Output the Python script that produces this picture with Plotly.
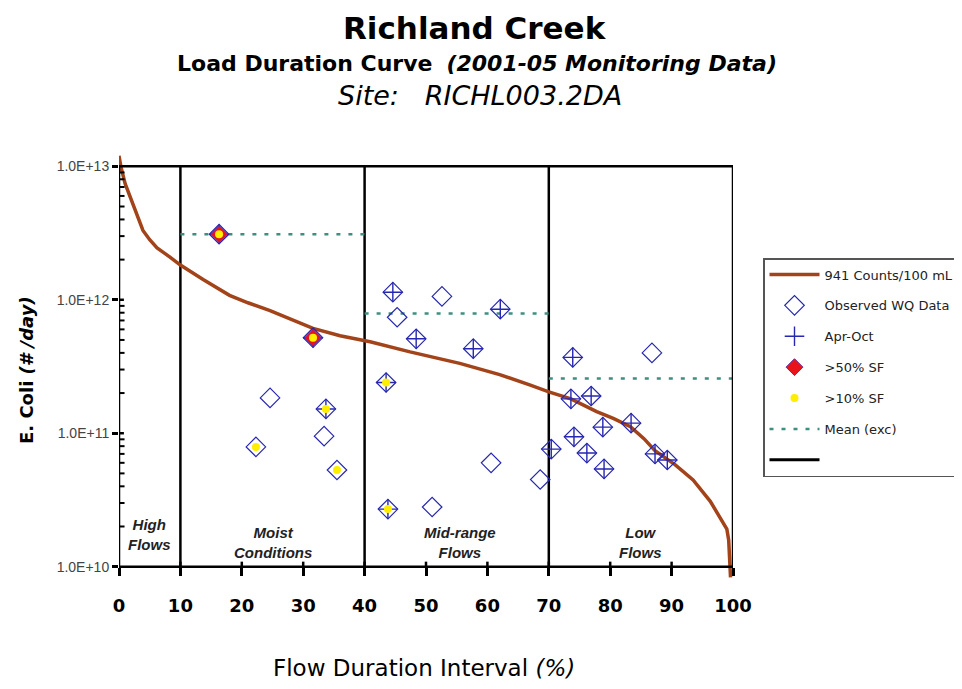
import math
import plotly.graph_objects as go

# ---------------- data ----------------
curve_pct = [0, 0.3, 1.0, 1.8, 3.0, 3.9, 5.0, 6.2, 8.3, 10, 13.7, 18, 21, 24.6, 31.6, 36, 40.9,
             47.4, 55.5, 62, 67, 70, 73.6, 77.8, 80.5, 83.3, 85.5, 87.3, 90.6, 93.5, 96.3,
             97.9, 99.0, 99.3, 99.5, 99.6]
curve_load = [1.2e13, 1.0e13, 7.41e12, 5.89e12, 4.17e12, 3.31e12, 2.82e12, 2.45e12, 2.09e12,
              1.82e12, 1.42e12, 1.08e12, 9.5e11, 8.3e11, 6.11e11, 5.37e11, 4.85e11,
              4.07e11, 3.34e11, 2.75e11, 2.29e11, 2.04e11, 1.81e11, 1.45e11, 1.29e11,
              1.12e11, 9.1e10, 7.4e10, 5.8e10, 4.47e10, 3.09e10,
              2.34e10, 1.91e10, 1.58e10, 1.0e10, 8.3e9]

obs_pct = [16.3, 31.6, 24.6, 22.3, 33.7, 33.4, 35.5, 44.6, 52.6, 45.3,
           62.1, 48.4, 57.7, 43.5, 60.6, 68.6, 70.4, 43.8, 51.0, 73.9,
           86.8, 73.6, 76.9, 78.8, 83.4, 74.1, 76.2, 79.0, 87.3, 89.3]
obs_load = [3.1e12, 5.2e11, 1.84e11, 7.9e10, 1.52e11, 9.5e10, 5.3e10, 1.14e12, 1.06e12, 7.4e11,
            8.5e11, 5.1e11, 4.3e11, 2.4e11, 6.0e10, 4.5e10, 7.6e10, 2.7e10, 2.8e10, 3.7e11,
            4.0e11, 1.81e11, 1.9e11, 1.11e11, 1.19e11, 9.4e10, 7.1e10, 5.4e10, 7.0e10, 6.3e10]
apr_oct = [1, 1, 0, 0, 1, 0, 0, 1, 0, 0,
           1, 1, 1, 1, 0, 0, 1, 1, 0, 1,
           0, 1, 1, 1, 1, 1, 1, 1, 1, 1]
sf50 = [1, 1, 0, 0, 0, 0, 0, 0, 0, 0,
        0, 0, 0, 0, 0, 0, 0, 0, 0, 0,
        0, 0, 0, 0, 0, 0, 0, 0, 0, 0]
sf10 = [1, 1, 0, 1, 1, 0, 1, 0, 0, 0,
        0, 0, 0, 1, 0, 0, 0, 1, 0, 0,
        0, 0, 0, 0, 0, 0, 0, 0, 0, 0]

zone_bounds = [0, 10, 40, 70, 100]
zone_names = ["High<br>Flows", "Moist<br>Conditions", "Mid-range<br>Flows", "Low<br>Flows"]
mean_zones = [(10, 40), (40, 70), (70, 100)]
mean_load = [3.1e12, 7.9e11, 2.57e11]

x_ticks = list(range(0, 101, 10))
y_ticks = [1e10, 1e11, 1e12, 1e13]
y_ticktext = ["1.0E+10", "1.0E+11", "1.0E+12", "1.0E+13"]
y_minor = [m * 10 ** e for e in (10, 11, 12) for m in range(2, 10)]

# ---------------- layout helpers ----------------
Y_LO, Y_HI = 10, 13          # log10 box limits
PAD = 0.1
SPAN = Y_HI - Y_LO + 2 * PAD
BOX_B = PAD / SPAN
BOX_T = 1 - PAD / SPAN
PLOT_H = 427


def ypaper(v):
    return (math.log10(v) - (Y_LO - PAD)) / SPAN


def sel(vals, flags):
    return [v for v, f in zip(vals, flags) if f]


BLUE = "#2727b0"
fig = go.Figure()

mx, my = [], []
for (a, b), m in zip(mean_zones, mean_load):
    mx += [a, b, None]
    my += [m, m, None]
fig.add_trace(go.Scatter(x=mx, y=my, mode="lines", name="Mean (exc)",
                         line=dict(color="#3f8f80", width=2.5, dash="4px,8px"),
                         legendrank=6, legendgroup="g6"))
fig.add_trace(go.Scatter(x=curve_pct, y=curve_load, mode="lines",
                         name="941 Counts/100 mL",
                         line=dict(color="#a3431a", width=3.5), legendrank=1, legendgroup="g1"))
fig.add_trace(go.Scatter(x=obs_pct, y=obs_load, mode="markers", name="Observed WQ Data",
                         marker=dict(symbol="diamond-open", size=15, color=BLUE,
                                     line=dict(width=1.2, color=BLUE)),
                         legendrank=2, legendgroup="g2"))
fig.add_trace(go.Scatter(x=sel(obs_pct, apr_oct), y=sel(obs_load, apr_oct), mode="markers",
                         name="Apr-Oct",
                         marker=dict(symbol="cross-thin", size=14, color=BLUE,
                                     line=dict(width=1.4, color=BLUE)),
                         legendrank=3, legendgroup="g3"))
fig.add_trace(go.Scatter(x=sel(obs_pct, sf50), y=sel(obs_load, sf50), mode="markers",
                         name=">50% SF",
                         marker=dict(symbol="diamond", size=13, color="#e8141c",
                                     line=dict(width=1, color="#6a2a9a")),
                         legendrank=4, legendgroup="g4"))
fig.add_trace(go.Scatter(x=sel(obs_pct, sf10), y=sel(obs_load, sf10), mode="markers",
                         name=">10% SF",
                         marker=dict(symbol="circle", size=8, color="#ffee00",
                                     line=dict(width=0)),
                         legendrank=5, legendgroup="g5"))
fig.add_trace(go.Scatter(x=[None], y=[None], mode="lines", name=" ",
                         line=dict(color="black", width=3), legendrank=7, legendgroup="g7"))

# box, zone dividers, inner tick marks
shapes = [dict(type="rect", xref="x", yref="paper", x0=zone_bounds[0], x1=zone_bounds[-1],
               y0=BOX_B, y1=BOX_T, line=dict(color="black", width=2.5), layer="above")]
for b in zone_bounds[1:-1]:
    shapes.append(dict(type="line", xref="x", yref="paper", x0=b, x1=b, y0=BOX_B, y1=BOX_T,
                       line=dict(color="black", width=2.5), layer="below"))
for v in y_minor:
    shapes.append(dict(type="line", xref="x", yref="paper", x0=0, x1=0.9,
                       y0=ypaper(v), y1=ypaper(v), line=dict(color="black", width=2)))
for v in y_ticks[1:-1]:
    shapes.append(dict(type="line", xref="x", yref="paper", x0=0, x1=0.8,
                       y0=ypaper(v), y1=ypaper(v), line=dict(color="black", width=2.5)))
for t in x_ticks[1:-1]:
    shapes.append(dict(type="line", xref="x", yref="paper", x0=t, x1=t,
                       y0=BOX_B, y1=BOX_B + 5 / PLOT_H, line=dict(color="black", width=2.5)))

ann = []
zone_label_y = [10.24, 10.18, 10.18, 10.18]
for (a, b), name, yl in zip(zip(zone_bounds[:-1], zone_bounds[1:]), zone_names, zone_label_y):
    ann.append(dict(x=(a + b) / 2 + (0.5 if a == 40 else 0), y=yl, xref="x", yref="y",
                    text="<b><i>" + name + "</i></b>",
                    showarrow=False, xanchor="center", yanchor="middle",
                    font=dict(size=15, family="Liberation Sans", color="#222")))

OFF = 8  # page body margin


def py(p):  # reference pixel -> paper y
    return (580 - p) / PLOT_H


def px(p):
    return (p - 119) / 614


TFONT = "DejaVu Sans"
titles = [
    dict(x=px(475), y=py(28), text="<b>Richland Creek</b>",
         font=dict(size=31, family=TFONT, color="black")),
    dict(x=px(477), y=py(63),
         text="<b>Load Duration Curve</b>&nbsp; <b><i>(2001-05 Monitoring Data)</i></b>",
         font=dict(size=22, family=TFONT, color="black")),
    dict(x=px(480), y=py(95),
         text="<i>Site:&nbsp;&nbsp; RICHL003.2DA</i>",
         font=dict(size=27, family=TFONT, color="black")),
    dict(x=px(424), y=py(668),
         text="Flow Duration Interval <i>(%)</i>",
         font=dict(size=23, family=TFONT, color="black")),
    dict(x=px(26), y=py(370), textangle=-90,
         text="<b>E. Coli <i>(# /day)</i></b>",
         font=dict(size=18, family=TFONT, color="black")),
]
for a in titles:
    a.update(xref="paper", yref="paper", showarrow=False, xanchor="center", yanchor="middle")
ann += titles

fig.update_layout(
    width=962, height=689,
    margin=dict(l=119 - OFF, r=962 - 733 + OFF, t=153 - OFF, b=109 + OFF, autoexpand=False),
    paper_bgcolor="white", plot_bgcolor="white",
    showlegend=True,
    legend=dict(x=px(763), y=py(258), xanchor="left", yanchor="top",
                bgcolor="white", bordercolor="#555", borderwidth=1.5,
                font=dict(size=13, family=TFONT, color="#222"),
                itemwidth=50,
                tracegroupgap=11, traceorder="grouped"),
    shapes=shapes, annotations=ann,
    xaxis=dict(range=[0, 100], tickvals=x_ticks, showgrid=False, zeroline=False,
               showline=False, anchor="free", position=BOX_B,
               ticks="outside", ticklen=8, tickwidth=2.5, tickcolor="black",
               ticklabelstandoff=15,
               tickfont=dict(size=18, family=TFONT, color="black", weight="bold")),
    yaxis=dict(type="log", range=[Y_LO - PAD, Y_HI + PAD], tickvals=y_ticks,
               ticktext=y_ticktext, showgrid=False, zeroline=False, showline=False,
               ticks="outside", ticklen=6, tickwidth=2.5, tickcolor="black",
               tickfont=dict(size=14, family="Liberation Sans", color="#444")),
)

fig.write_html("out.html")
